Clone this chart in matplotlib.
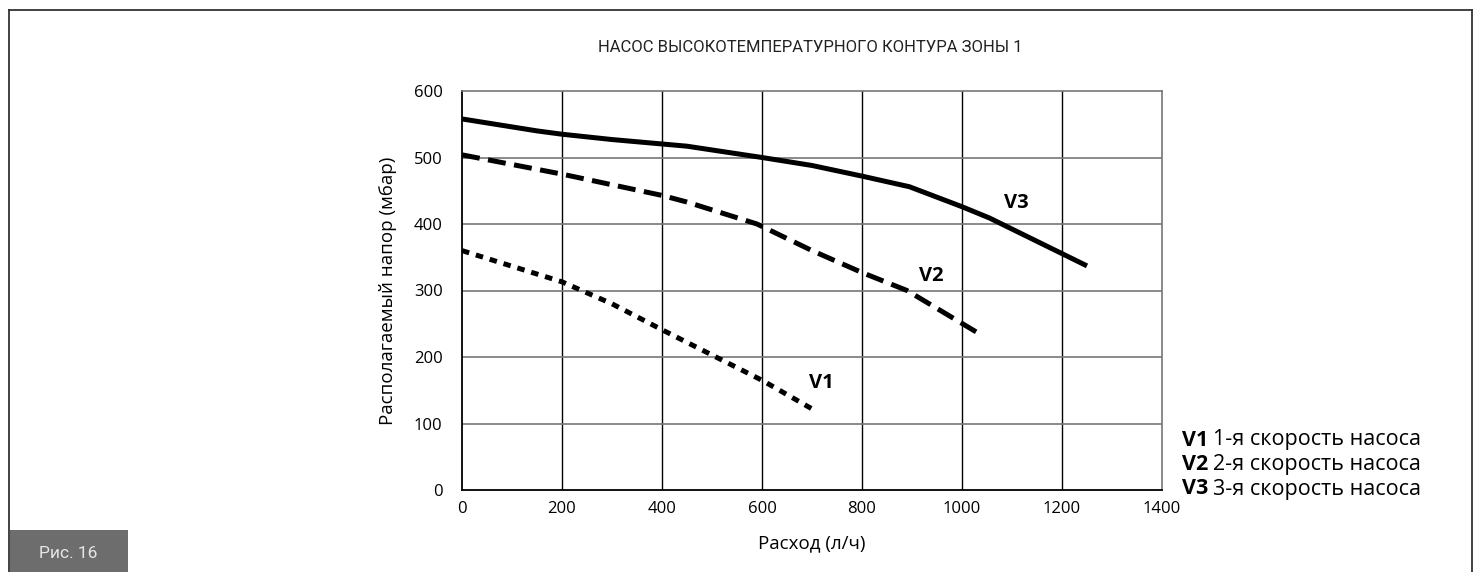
import matplotlib
matplotlib.use("Agg")
import matplotlib.pyplot as plt
from matplotlib.patches import Rectangle
from matplotlib.lines import Line2D

# ---- data ----
title = "НАСОС ВЫСОКОТЕМПЕРАТУРНОГО КОНТУРА ЗОНЫ 1"
x_label = "Расход (л/ч)"
y_label = "Располагаемый напор (мбар)"
fig_label = "Рис. 16"

v3_flow = [0, 150, 200, 300, 450, 600, 700, 800, 895, 1000, 1055, 1250]
v3_head = [558, 540, 535, 527, 517, 500, 488, 472, 456, 426, 409, 337]
v2_flow = [0, 200, 400, 450, 590, 700, 800, 890, 1030]
v2_head = [504, 475, 443, 433, 400, 360, 327, 300, 237]
v1_flow = [0, 200, 300, 400, 500, 600, 700]
v1_head = [360, 313, 280, 241, 203, 165, 122]

x_ticks = [0, 200, 400, 600, 800, 1000, 1200, 1400]
y_ticks = [0, 100, 200, 300, 400, 500, 600]

curve_names = ["V1", "V2", "V3"]
curve_label_x = [718, 938, 1108]
curve_label_y = [161, 322, 432]
legend_texts = ["1-я скорость насоса", "2-я скорость насоса", "3-я скорость насоса"]

# ---- figure ----
W, H = 1480, 572
fig = plt.figure(figsize=(W / 100, H / 100), dpi=100)
fig.patch.set_facecolor("white")
FONT = ["Open Sans", "DejaVu Sans"]
COND = ["Roboto", "DejaVu Sans"]


def fx(px):
    return px / W


def fy(py):
    return 1 - py / H


# outer frame
fig.add_artist(Line2D([fx(9), fx(9)], [fy(10), 0], color="#333333", lw=1.3, transform=fig.transFigure))
fig.add_artist(Line2D([fx(9), fx(1472)], [fy(10), fy(10)], color="#333333", lw=1.3, transform=fig.transFigure))
fig.add_artist(Line2D([fx(1472), fx(1472)], [fy(10), 0], color="#333333", lw=1.3, transform=fig.transFigure))

# grey figure tag
fig.add_artist(Rectangle((fx(10), 0), fx(118), fy(530), transform=fig.transFigure,
                         facecolor="#6d6d6d", edgecolor="none"))
fig.text(fx(68), fy(553), fig_label, color="#e6e6e6", fontsize=12.5, family=COND,
         ha="center", va="center")

# axes
ax = fig.add_axes([fx(462), fy(490), (1162 - 462) / W, (490 - 91) / H])
ax.set_xlim(0, 1400)
ax.set_ylim(0, 600)
ax.set_xticks(x_ticks)
ax.set_yticks(y_ticks)
ax.tick_params(length=0, labelsize=12, pad=14)
ax.tick_params(axis="x", pad=8)
for lab in ax.get_xticklabels() + ax.get_yticklabels():
    lab.set_family(FONT)
for x in x_ticks[1:-1]:
    ax.axvline(x, color="black", lw=1.0, zorder=1)
for y in y_ticks[1:-1]:
    ax.axhline(y, color="#777777", lw=1.2, zorder=1)
for side in ["left", "bottom"]:
    ax.spines[side].set_color("black")
    ax.spines[side].set_linewidth(1.3)
for side in ["top", "right"]:
    ax.spines[side].set_color("#777777")
    ax.spines[side].set_linewidth(1.2)

ax.plot(v3_flow, v3_head, color="black", lw=3.6, solid_capstyle="butt", zorder=3)
ax.plot(v2_flow, v2_head, color="black", lw=3.6, dashes=(3.6, 1.7), dash_capstyle="butt", zorder=3)
ax.plot(v1_flow, v1_head, color="black", lw=3.6, dashes=(1.5, 1.4), dash_capstyle="butt", zorder=3)

for name, lx, ly in zip(curve_names, curve_label_x, curve_label_y):
    ax.text(lx, ly, name, fontsize=14.5, fontweight="bold", family=FONT,
            ha="center", va="center", zorder=4)

ax.set_xlabel(x_label, fontsize=13.5, family=FONT, labelpad=12)
ax.set_ylabel(y_label, fontsize=13.5, family=FONT, labelpad=12)

fig.text(fx(810), fy(47), title, fontsize=12, family=COND, ha="center", va="center", color="#222222")

# legend-like text block on the right
legend_y = [440, 464.5, 489]
bold_texts = []
for name, ly in zip(curve_names, legend_y):
    t = fig.text(fx(1182), fy(ly), name, fontsize=15.5, fontweight="bold", family=FONT,
                 ha="left", va="center")
    bold_texts.append(t)
fig.canvas.draw()
renderer = fig.canvas.get_renderer()
for t, txt, ly in zip(bold_texts, legend_texts, legend_y):
    bb = t.get_window_extent(renderer)
    fig.text((bb.x1 + 5) / W, fy(ly), txt, fontsize=15.5, family=FONT, ha="left", va="center")

fig.savefig("out.png", dpi=100)
